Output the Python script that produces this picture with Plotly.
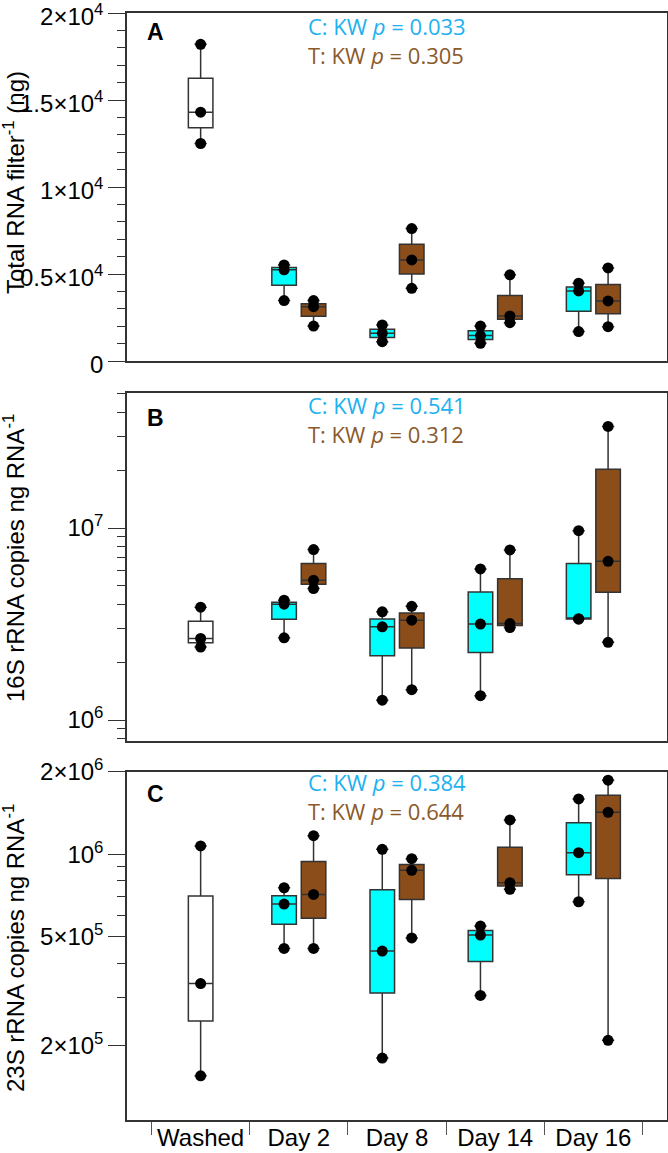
import plotly.graph_objects as go

# ---------------- data ----------------
categories = ["Washed", "Day 2", "Day 8", "Day 14", "Day 16"]

# Panel A: total RNA per filter (ng)
rna_washed = [18200, 14300, 12500]
rna_C = [[5240, 5520, 3470], [1590, 2070, 1110], [2010, 1020, 1460], [4030, 4470, 1690]]
rna_T = [[3470, 3120, 2010], [7610, 5810, 4180], [4950, 2590, 2200], [5350, 3450, 1970]]

# Panel B: 16S rRNA copies per ng RNA
s16_washed = [3.87e6, 2.66e6, 2.40e6]
s16_C = [[4.01e6, 4.21e6, 2.68e6], [3.06e6, 3.66e6, 1.27e6], [6.12e6, 3.16e6, 1.34e6], [9.68e6, 3.35e6, 3.37e6]]
s16_T = [[7.72e6, 5.34e6, 4.84e6], [3.91e6, 3.31e6, 1.44e6], [7.69e6, 3.18e6, 3.03e6], [3.38e7, 6.71e6, 2.54e6]]

# Panel C: 23S rRNA copies per ng RNA
s23_washed = [1.073e6, 3.37e5, 1.55e5]
s23_C = [[7.55e5, 6.58e5, 4.53e5], [1.043e6, 4.43e5, 1.80e5], [5.47e5, 5.07e5, 3.05e5], [1.594e6, 1.014e6, 6.71e5]]
s23_T = [[1.17e6, 7.14e5, 4.53e5], [9.64e5, 8.74e5, 4.95e5], [1.336e6, 7.88e5, 7.45e5], [1.866e6, 1.424e6, 2.09e5]]

kw_C = ["0.033", "0.541", "0.384"]
kw_T = ["0.305", "0.312", "0.644"]
panel_letters = ["A", "B", "C"]
y_titles = ["Total RNA filter<sup>-1</sup> (ng)",
            "16S rRNA copies ng RNA<sup>-1</sup>",
            "23S rRNA copies ng RNA<sup>-1</sup>"]

ticks_A_vals = [0, 5000, 10000, 15000, 20000]
ticks_A_text = ["0", "0.5×10<sup>4</sup>", "1×10<sup>4</sup>", "1.5×10<sup>4</sup>", "2×10<sup>4</sup>"]
ticks_B_vals = [1e6, 1e7]
ticks_B_text = ["10<sup>6</sup>", "10<sup>7</sup>"]
ticks_C_vals = [2e5, 5e5, 1e6, 2e6]
ticks_C_text = ["2×10<sup>5</sup>", "5×10<sup>5</sup>", "10<sup>6</sup>", "2×10<sup>6</sup>"]

# ---------------- styles ----------------
W, H = 668, 1153
CYAN = "#00FFFF"
BROWN = "#8B4E1A"
TXT_CYAN = "#1DB1F0"
TXT_BROWN = "#8B5A2B"
LINE = "#333333"
FONT = "Liberation Sans, Arial, sans-serif"
OFF = 0.15
BW = 0.25

x_dom = [127 / W, 667 / W]
panels_px = [(13, 361), (393, 741), (772, 1120)]
y_doms = [[1 - b / H, 1 - t / H] for t, b in panels_px]

fig = go.Figure()


def add_box(vals, pos, fill, ax):
    xa = "x" if ax == 1 else f"x{ax}"
    ya = "y" if ax == 1 else f"y{ax}"
    fig.add_trace(go.Box(
        x=[pos] * len(vals), y=vals, width=BW, fillcolor=fill,
        line=dict(color=LINE, width=1.5), whiskerwidth=0.5,
        boxpoints="all", pointpos=0, jitter=0,
        marker=dict(color="black", size=11),
        quartilemethod="inclusive", xaxis=xa, yaxis=ya, showlegend=False))


datasets = [(rna_washed, rna_C, rna_T), (s16_washed, s16_C, s16_T), (s23_washed, s23_C, s23_T)]
for k, (w, c, t) in enumerate(datasets):
    ax = k + 1
    add_box(w, 0, "white", ax)
    for i in range(len(c)):
        add_box(c[i], i + 1 - OFF, CYAN, ax)
        add_box(t[i], i + 1 + OFF, BROWN, ax)

common_x = dict(range=[-0.75, 4.75], showgrid=False, zeroline=False, showline=True,
                linecolor=LINE, linewidth=1.5, mirror=True, domain=x_dom, fixedrange=True,
                automargin=False, ticklabeloverflow="allow")
common_y = dict(showgrid=False, zeroline=False, showline=True, linecolor=LINE, linewidth=1.5,
                mirror=True, ticks="outside", ticklen=17, tickwidth=1.2, tickcolor=LINE,
                tickfont=dict(family=FONT, size=24, color="black"), tickmode="array",
                automargin=False, ticklabeloverflow="allow")

minor_A = [v for v in range(1000, 20000, 1000) if v % 5000 != 0]
minor_B = [8e5, 9e5] + [m * 1e6 for m in range(2, 10)] + [m * 1e7 for m in range(2, 6)]
minor_C = [m * 1e5 for m in (3, 4, 6, 7, 8, 9)]

fig.update_layout(
    width=W, height=H, margin=dict(l=0, r=0, t=0, b=0, autoexpand=False),
    paper_bgcolor="white", plot_bgcolor="white", boxmode="overlay",
    xaxis=dict(common_x, anchor="y", showticklabels=False, ticks=""),
    xaxis2=dict(common_x, anchor="y2", showticklabels=False, ticks=""),
    xaxis3=dict(common_x, anchor="y3", tickmode="array", tickvals=list(range(len(categories))),
                ticktext=categories, ticks="", ticklabelstandoff=-5,
                tickfont=dict(family=FONT, size=24, color="black"),
                minor=dict(tickmode="array", tickvals=[i - 0.5 for i in range(len(categories) + 1)],
                           ticks="outside", ticklen=13, tickwidth=1, tickcolor="#555555")),
    yaxis=dict(common_y, anchor="x", domain=y_doms[0], range=[0, 20000],
               tickvals=ticks_A_vals, ticktext=ticks_A_text, ticklabelshift=4,
               minor=dict(tickmode="array", tickvals=minor_A, ticks="outside", ticklen=8,
                          tickwidth=1.2, tickcolor=LINE)),
    yaxis2=dict(common_y, anchor="x2", domain=y_doms[1], type="log", range=[5.891, 7.703],
                tickvals=ticks_B_vals, ticktext=ticks_B_text,
                minor=dict(tickmode="array", tickvals=minor_B, ticks="outside", ticklen=8,
                           tickwidth=1.2, tickcolor=LINE)),
    yaxis3=dict(common_y, anchor="x3", domain=y_doms[2], type="log", range=[5.029, 6.301],
                tickvals=ticks_C_vals, ticktext=ticks_C_text,
                minor=dict(tickmode="array", tickvals=minor_C, ticks="outside", ticklen=8,
                           tickwidth=1.2, tickcolor=LINE)),
)

letter_y = [32, 418, 794]
kw_mid_y = [40, 419.5, 796]
title_y = [183, 558, 948]
for k in range(3):
    fig.add_annotation(x=145 / W, y=1 - letter_y[k] / H, xref="paper", yref="paper",
                       text=f"<b>{panel_letters[k]}</b>", showarrow=False, xanchor="left",
                       yanchor="middle", font=dict(family=FONT, size=23, color="black"))
    fig.add_annotation(x=306 / W, y=1 - kw_mid_y[k] / H, xref="paper", yref="paper",
                       text=(f"<span style='color:{TXT_CYAN}'>C: KW <i>p</i> = {kw_C[k]}</span><br>"
                             f"<span style='color:{TXT_BROWN}'>T: KW <i>p</i> = {kw_T[k]}</span>"),
                       showarrow=False, xanchor="left", align="left",
                       yanchor="middle", font=dict(family="Open Sans", size=22, color=TXT_CYAN))
    fig.add_annotation(x=14 / W, y=1 - title_y[k] / H, xref="paper", yref="paper",
                       text=y_titles[k], showarrow=False, textangle=-90, xanchor="center",
                       yanchor="middle", font=dict(family=FONT, size=24, color="black"))

fig.write_html("out.html")
